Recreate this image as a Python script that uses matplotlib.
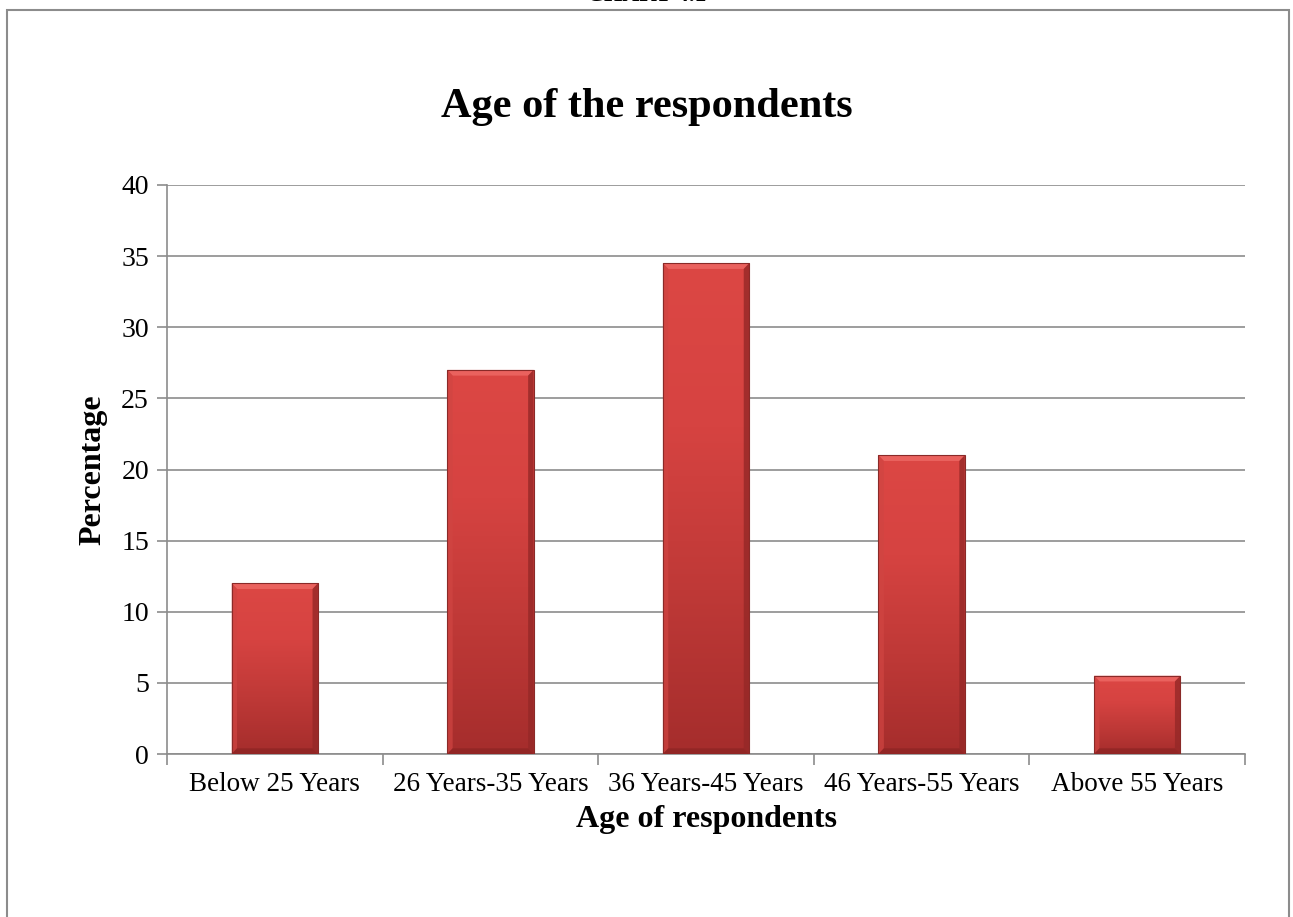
import numpy as np
import matplotlib.pyplot as plt
from matplotlib.colors import LinearSegmentedColormap
from matplotlib.patches import Rectangle, Polygon

categories = ["Below 25 Years", "26 Years-35 Years", "36 Years-45 Years",
              "46 Years-55 Years", "Above 55 Years"]
percentages = [12, 27, 34.5, 21, 5.5]
y_ticks = [0, 5, 10, 15, 20, 25, 30, 35, 40]

plt.rcParams["font.family"] = ["Liberation Serif", "DejaVu Serif"]

W, H = 1293, 917
fig = plt.figure(figsize=(W / 100, H / 100), dpi=100)
ax = fig.add_axes([167 / W, 1 - 754 / H, (1245 - 167) / W, (754 - 185) / H])

# outer chart frame
fig.add_artist(Rectangle((7 / W, -0.05), (1289 - 7) / W, 1 - 10 / H + 0.05,
                         transform=fig.transFigure, fill=False,
                         edgecolor="#8c8c8c", linewidth=1.5))
fig.text(0.5, 1 - 6 / H, "CHART 4.1", ha="center", va="bottom",
         fontsize=17, fontweight="bold")

x = np.arange(len(categories))
width = 0.4
bars = ax.bar(x, percentages, width=width, color="#c83a38",
              edgecolor="none", linewidth=0, zorder=3)

# vertical shading inside each bar
shade = LinearSegmentedColormap.from_list(
    "shade", ["#a52d2c", "#bf3937", "#d64341", "#dc4744"])
grad = np.linspace(0, 1, 256).reshape(-1, 1)
bev = 0.4          # bevel depth in data units (y)
bevx = 0.025       # bevel depth in data units (x)
for b in bars:
    x0, y0 = b.get_x(), b.get_y()
    w, h = b.get_width(), b.get_height()
    im = ax.imshow(grad, extent=[x0, x0 + w, y0, y0 + h], origin="lower",
                   cmap=shade, aspect="auto", zorder=3.5)
    im.set_clip_path(b)
    top = y0 + h
    # mitred bevel: light top, slightly lighter left, darker right and bottom
    ax.add_patch(Polygon([(x0, top), (x0 + w, top), (x0 + w - bevx, top - bev),
                          (x0 + bevx, top - bev)], closed=True,
                         facecolor="#ea625e", edgecolor="none", zorder=3.6))
    ax.add_patch(Polygon([(x0, top), (x0 + bevx, top - bev), (x0 + bevx, y0 + bev),
                          (x0, y0)], closed=True,
                         facecolor="#d04542", alpha=0.7, edgecolor="none", zorder=3.6))
    ax.add_patch(Polygon([(x0 + w, top), (x0 + w - bevx, top - bev),
                          (x0 + w - bevx, y0 + bev), (x0 + w, y0)], closed=True,
                         facecolor="#952827", alpha=0.8, edgecolor="none", zorder=3.6))
    ax.add_patch(Polygon([(x0, y0), (x0 + bevx, y0 + bev), (x0 + w - bevx, y0 + bev),
                          (x0 + w, y0)], closed=True,
                         facecolor="#8e2524", alpha=0.8, edgecolor="none", zorder=3.6))
    ax.add_patch(Rectangle((x0, y0), w, h, fill=False, edgecolor="#8a2a28",
                           linewidth=0.8, zorder=3.7))

ax.set_xlim(-0.5, len(categories) - 0.5)
ax.set_ylim(0, 40)
ax.set_yticks(y_ticks)
ax.set_yticklabels([str(v) for v in y_ticks], fontsize=20)
ax.set_xticks(x)
ax.set_xticklabels(categories, fontsize=19.5)
ax.tick_params(axis="x", length=0, pad=13)
ax.set_xticks(np.arange(len(categories) + 1) - 0.5, minor=True)
ax.tick_params(axis="x", which="minor", length=8, color="#8c8c8c", width=1.2)
ax.tick_params(axis="y", length=7, color="#8c8c8c", width=1.2, pad=6)

ax.grid(axis="y", color="#8c8c8c", linewidth=1.2, zorder=0)
for side in ["top", "right"]:
    ax.spines[side].set_visible(False)
for side in ["left", "bottom"]:
    ax.spines[side].set_color("#8c8c8c")
    ax.spines[side].set_linewidth(1.2)

ax.set_xlabel("Age of respondents", fontsize=23, fontweight="bold", labelpad=6)
ax.set_ylabel("Percentage", fontsize=23, fontweight="bold", labelpad=10)
fig.text(0.5, 1 - 107 / H, "Age of the respondents", ha="center", va="center",
         fontsize=30.5, fontweight="bold")

fig.savefig("out.png", dpi=100)
